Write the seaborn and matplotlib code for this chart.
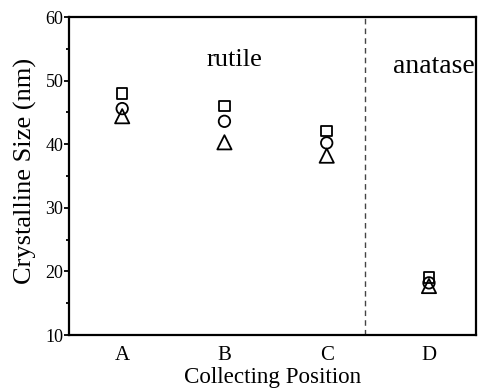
import numpy as np
import pandas as pd
import matplotlib
matplotlib.use("Agg")
import matplotlib.pyplot as plt
import seaborn as sns

positions = ["A", "B", "C", "D"]
square_vals = [48.0, 46.0, 42.1, 19.0]
circle_vals = [45.6, 43.6, 40.2, 18.2]
triangle_vals = [44.4, 40.3, 38.2, 17.7]
y_ticks = [10, 20, 30, 40, 50, 60]

sns.set_theme(style="ticks")
plt.rcParams["font.family"] = ["Liberation Serif", "DejaVu Serif"]
plt.rcParams["text.color"] = "black"
plt.rcParams["axes.labelcolor"] = "black"
plt.rcParams["xtick.color"] = "black"
plt.rcParams["ytick.color"] = "black"

fig = plt.figure(figsize=(4.84, 3.91), dpi=100)
ax = fig.add_axes([0.1426, 0.1432, 0.8409, 0.8133])

xpos = np.arange(len(positions))
series = [
    (square_vals, "s", 58),
    (circle_vals, "o", 68),
    (triangle_vals, "^", 105),
]
for vals, mk, sz in series:
    df = pd.DataFrame({"pos": xpos, "size": vals})
    sns.scatterplot(data=df, x="pos", y="size", marker=mk, s=sz,
                    facecolor="none", edgecolor="black", linewidth=1.3,
                    ax=ax, legend=False, zorder=3)

ax.axvline(2.37, color="#444444", linestyle=(0, (4, 3)), linewidth=1.0)

ax.set_xlim(-0.52, 3.46)
ax.set_ylim(10, 60)
ax.set_xticks(xpos)
ax.set_xticklabels(positions, fontsize=15)
ax.set_yticks(y_ticks)
ax.set_yticklabels([str(t) for t in y_ticks], fontsize=13)
ax.set_yticks(np.arange(15, 60, 10), minor=True)
ax.tick_params(axis="x", length=0, pad=8)
ax.tick_params(axis="y", which="major", length=3.5, width=1.3, pad=0.5, direction="out")
ax.tick_params(axis="y", which="minor", length=2, width=1.3, direction="out")
for sp in ax.spines.values():
    sp.set_linewidth(1.6)
    sp.set_color("black")
    sp.set_visible(True)

ax.set_xlabel("Collecting Position", fontsize=16.6, labelpad=1)
ax.set_ylabel("Crystalline Size (nm)", fontsize=19)
ax.yaxis.set_label_coords(-0.078, 0.515)

ax.text(1.095, 52.3, "rutile", fontsize=19, ha="center", va="baseline")
ax.text(3.045, 51.2, "anatase", fontsize=20, ha="center", va="baseline")

fig.savefig("out.png", dpi=100)
